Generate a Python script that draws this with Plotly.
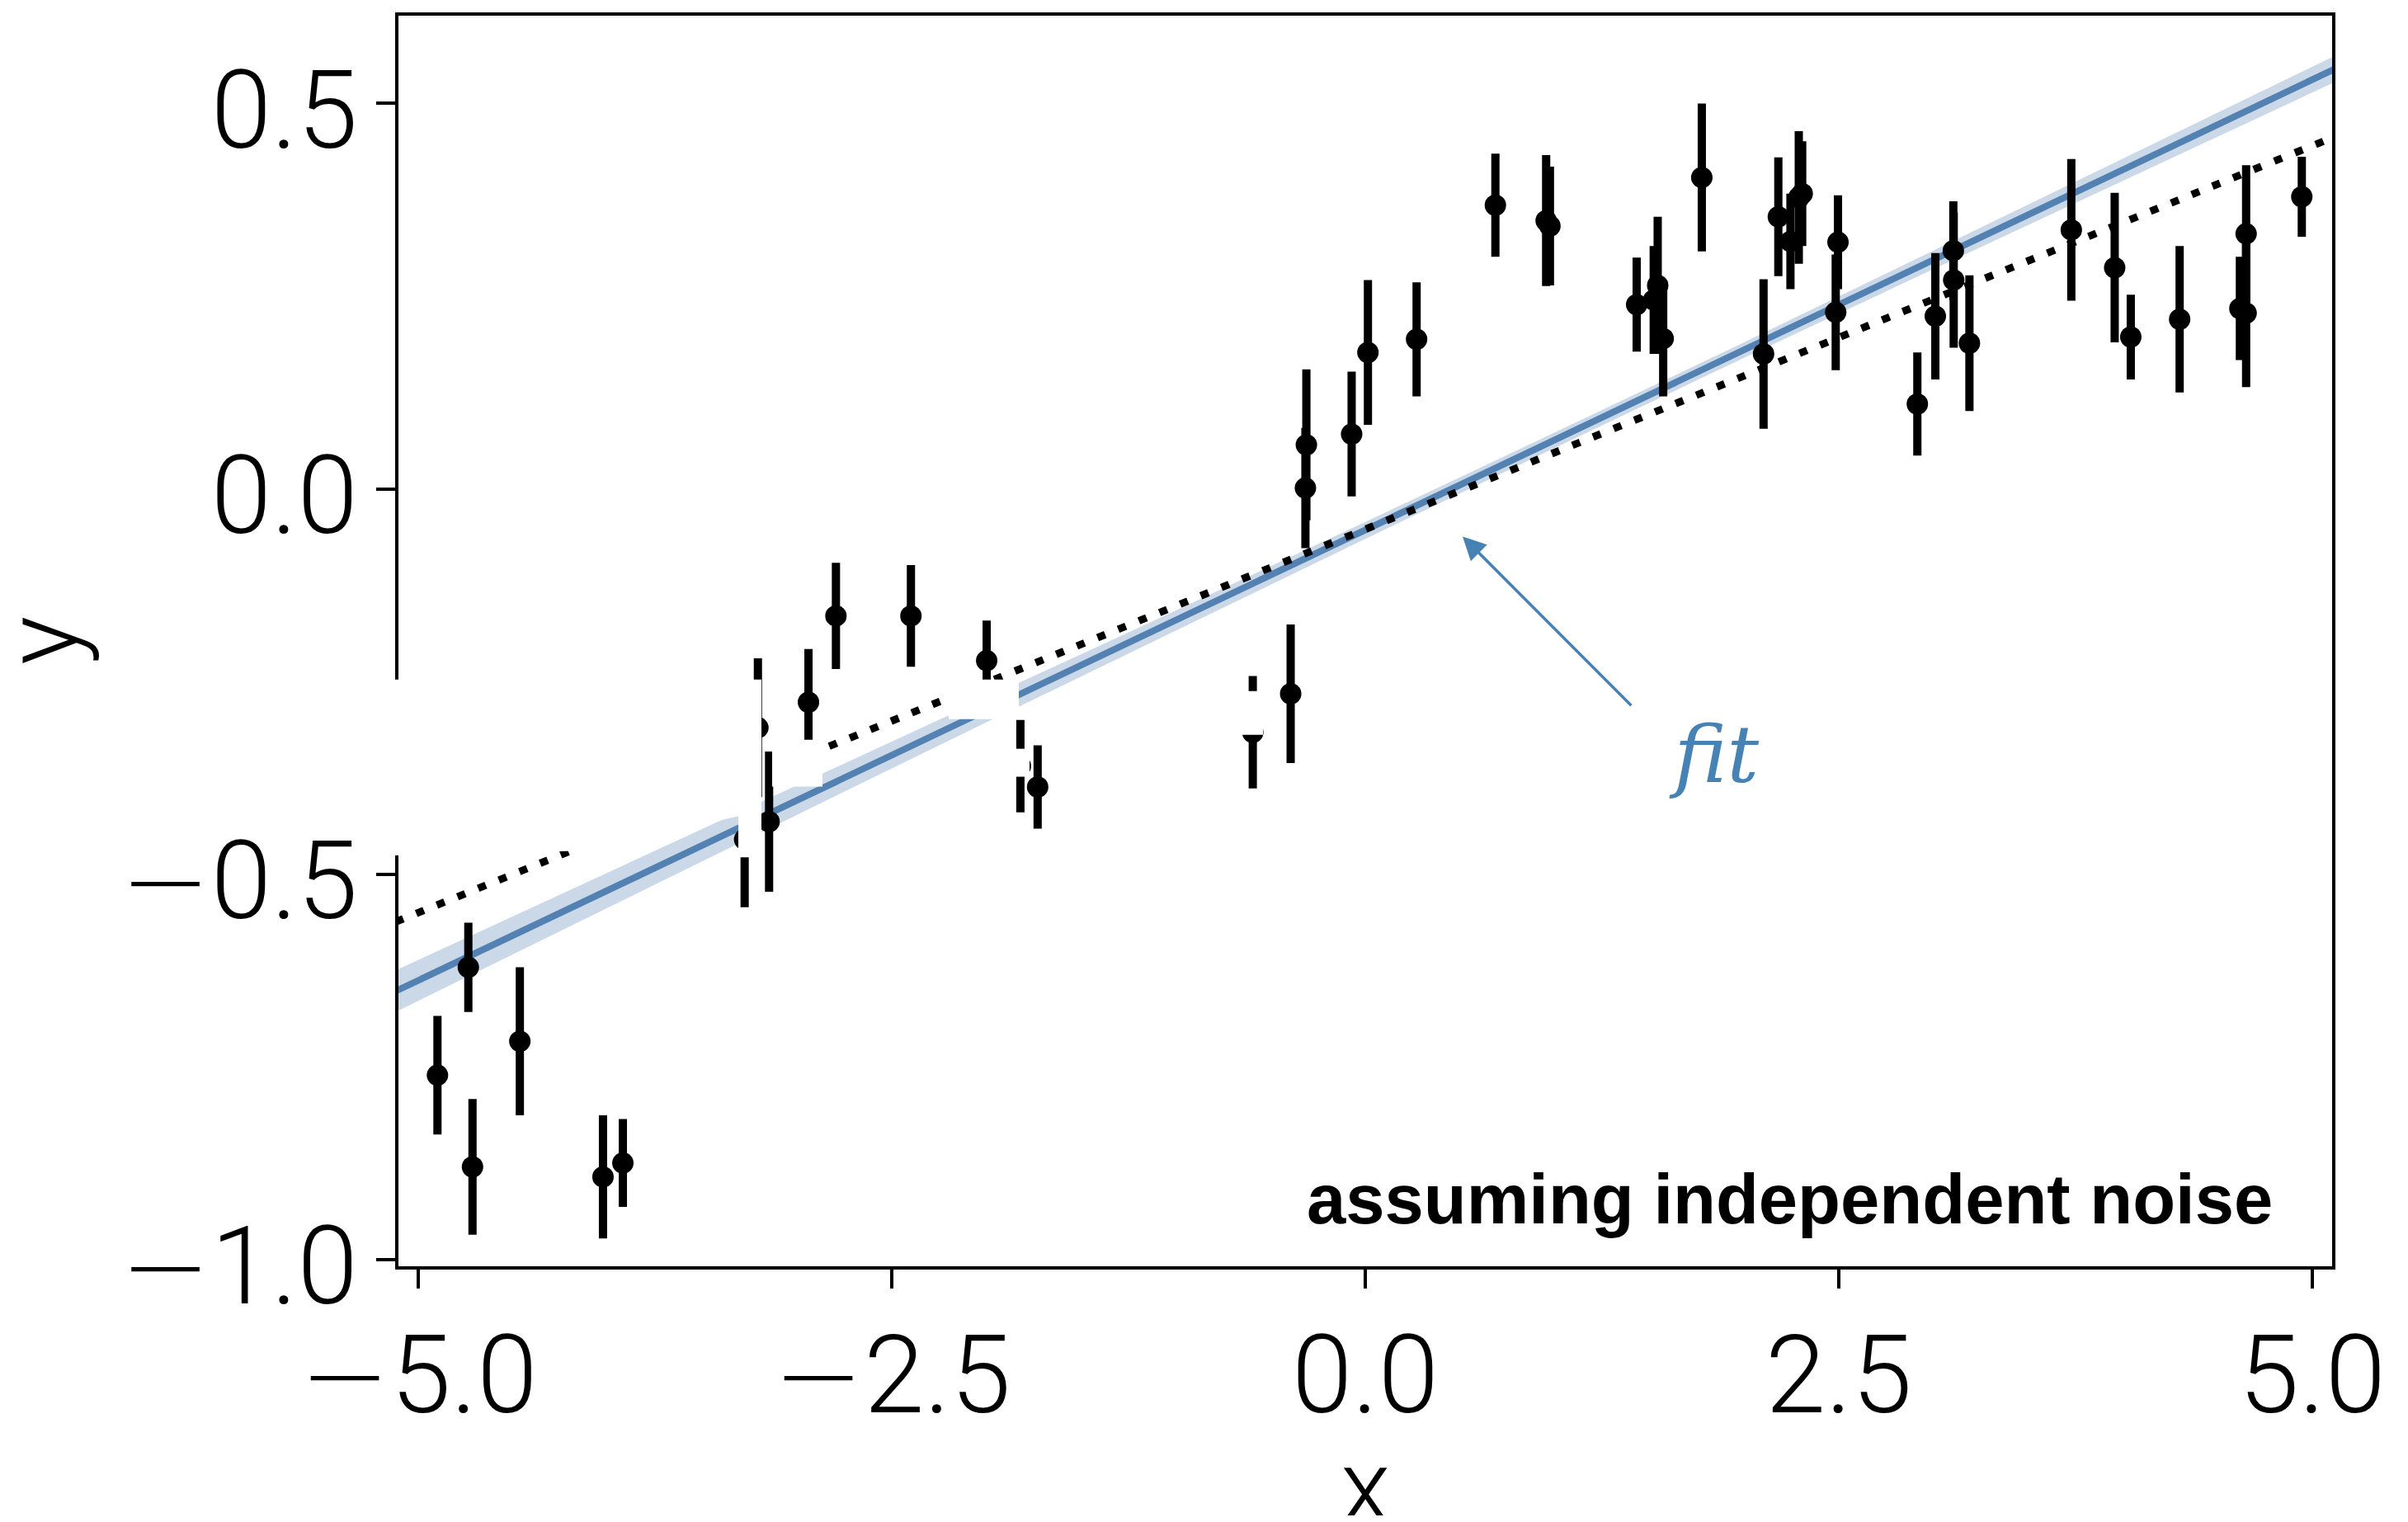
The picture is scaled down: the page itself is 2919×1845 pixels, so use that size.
import plotly.graph_objects as go

# ---------------- data ----------------
x_obs = [-4.899, -4.736, -4.714, -4.464, -4.025, -3.920, -3.277, -3.207, -3.148, -2.940,
         -2.795, -2.399, -1.999, -1.821, -1.730, -0.594, -0.394, -0.311, -0.316, -0.072,
         0.014, 0.271, 0.687, 0.955, 0.975, 1.433, 1.523, 1.544, 1.573, 1.777,
         2.103, 2.181, 2.245, 2.289, 2.307, 2.484, 2.496, 2.915, 3.010, 3.105,
         3.107, 3.190, 3.728, 3.957, 4.042, 4.300, 4.618, 4.651, 4.651, 4.945]
y_obs = [-0.761, -0.621, -0.880, -0.717, -0.893, -0.875, -0.455, -0.310, -0.432, -0.277,
         -0.165, -0.165, -0.223, -0.360, -0.387, -0.316, -0.266, 0.057, 0.001, 0.071,
         0.177, 0.194, 0.368, 0.348, 0.341, 0.239, 0.245, 0.264, 0.195, 0.404,
         0.175, 0.353, 0.321, 0.378, 0.383, 0.229, 0.320, 0.110, 0.224, 0.309,
         0.271, 0.189, 0.336, 0.287, 0.197, 0.220, 0.234, 0.228, 0.331, 0.379]
y_err = [0.077, 0.058, 0.088, 0.096, 0.080, 0.057, 0.088, 0.090, 0.091, 0.069,
         0.069, 0.066, 0.052, 0.060, 0.054, 0.073, 0.090, 0.098, 0.078, 0.081,
         0.094, 0.074, 0.067, 0.085, 0.077, 0.061, 0.070, 0.089, 0.075, 0.096,
         0.097, 0.077, 0.062, 0.086, 0.068, 0.075, 0.061, 0.067, 0.082, 0.064,
         0.088, 0.088, 0.092, 0.097, 0.055, 0.095, 0.067, 0.096, 0.089, 0.052]

# ML fit line and its uncertainty band
x_fit = [-5.12, -4.0, -3.0, -2.0, -1.0, 0.0, 1.0, 2.0, 3.0, 4.0, 5.12]
y_fit = [-0.652, -0.521, -0.404, -0.287, -0.171, -0.054, 0.063, 0.180, 0.297, 0.414, 0.545]
fit_halfwidth = [0.027, 0.023, 0.019, 0.016, 0.013, 0.011, 0.010, 0.010, 0.012, 0.014, 0.017]

# true model
x_true = [-5.12, 5.12]
y_true = [-0.562, 0.457]

MINUS = "<span style=\"font-family:'DejaVu Sans';font-weight:200\">\u2212</span>"
x_ticks = [-5.0, -2.5, 0.0, 2.5, 5.0]
x_ticktext = [MINUS + "5.0", MINUS + "2.5", "0.0", "2.5", "5.0"]
y_ticks = [-1.0, -0.5, 0.0, 0.5]
y_ticktext = [MINUS + "1.0", MINUS + "0.5", "0.0", "0.5"]

# ---------------- figure ----------------
OFF = 8                      # page body margin
W, H = 2919 - 2 * OFF, 1845 - 2 * OFF
L, T = 483 - OFF, 15 - OFF
PW, PH = 2344, 1520
R, B = W - L - PW, H - T - PH

BLUE = "#5381b2"
BAND = "#cad8e7"
ARROW = "#4682b4"

fig = go.Figure()

upper = [y + h for y, h in zip(y_fit, fit_halfwidth)]
lower = [y - h for y, h in zip(y_fit, fit_halfwidth)]
fig.add_trace(go.Scatter(x=x_fit + x_fit[::-1], y=upper + lower[::-1], fill="toself",
                         fillcolor=BAND, line=dict(width=0), mode="lines",
                         hoverinfo="skip", showlegend=False))
fig.add_trace(go.Scatter(x=x_fit, y=y_fit, mode="lines", line=dict(color=BLUE, width=8),
                         showlegend=False))
fig.add_trace(go.Scatter(x=x_true, y=y_true, mode="lines",
                         line=dict(color="black", width=9, dash="10px,17px"),
                         showlegend=False))
fig.add_trace(go.Scatter(x=x_obs, y=y_obs, mode="markers",
                         marker=dict(color="black", size=26, line=dict(width=0)),
                         error_y=dict(type="data", array=y_err, visible=True,
                                      color="black", thickness=10, width=0),
                         showlegend=False))

tickfont = dict(family="Roboto", size=132, color="black", weight=300)
axis_common = dict(showline=True, linecolor="black", linewidth=3.5, mirror=True,
                   ticks="outside", ticklen=23, tickwidth=3.5, tickcolor="black",
                   showgrid=False, zeroline=False, tickfont=tickfont)

fig.update_layout(
    width=W, height=H,
    margin=dict(l=L, r=R, t=T, b=B, pad=0),
    paper_bgcolor="white", plot_bgcolor="white",
    showlegend=False,
    xaxis=dict(range=[-5.105, 5.105], tickvals=x_ticks, ticktext=x_ticktext,
               ticklabelstandoff=-8, **axis_common),
    yaxis=dict(range=[-1.009, 0.614], tickvals=y_ticks, ticktext=y_ticktext,
               ticklabelstandoff=-4, ticklabelshift=7, **axis_common),
)

# white occlusions (white text outlines in the original), screen pixels
def px2paper(sx, sy):
    return ((sx - OFF) - L) / PW, ((T + PH) - (sy - OFF)) / PH

occl_polys = [
    [(462, 822), (923, 822), (923, 1038), (895, 1038), (895, 988), (705, 1030), (462, 1036)],
    [(936, 895), (997, 895), (997, 952), (936, 952)],
    [(1150, 822), (1235, 822), (1235, 870), (1150, 870)],
    [(1222, 906), (1248, 906), (1248, 940), (1222, 940)],
    [(1503, 836), (1531, 836), (1531, 889), (1503, 889)],
]
for poly in occl_polys:
    pts = [px2paper(a, b) for a, b in poly]
    path = "M " + " L ".join(f"{a:.5f},{b:.5f}" for a, b in pts) + " Z"
    fig.add_shape(type="path", path=path, xref="paper", yref="paper",
                  fillcolor="white", line=dict(width=0), layer="above")

# axis titles
fig.add_annotation(text="x", xref="paper", yref="paper", x=0.5, y=0,
                   xanchor="center", yanchor="top", yshift=-193, showarrow=False,
                   font=dict(family="Roboto", size=124, color="black", weight=300))
fig.add_annotation(text="y", xref="paper", yref="paper", x=0, y=0.5,
                   xanchor="center", yanchor="middle", xshift=-433, textangle=-90,
                   showarrow=False,
                   font=dict(family="Roboto", size=124, color="black", weight=300))

# corner text
cx, cy = px2paper(2757, 1453)
fig.add_annotation(text="<b>assuming independent noise</b>", xref="paper", yref="paper",
                   x=cx, y=cy, xanchor="right", yanchor="middle", showarrow=False,
                   font=dict(family="Liberation Sans", size=85, color="black"))

# ML fit arrow and label
fig.add_annotation(x=0.514, y=-0.062, ax=1.411, ay=-0.283, xref="x", yref="y",
                   axref="x", ayref="y", text="", showarrow=True,
                   arrowhead=2, arrowsize=1.6, arrowwidth=3.5, arrowcolor=ARROW)
fig.add_annotation(x=2.09, y=-0.345, xref="x", yref="y", xanchor="right", yanchor="middle",
                   text="<span style='color:white'>ML </span><i>fit</i>", showarrow=False,
                   font=dict(family="DejaVu Serif", size=96, color=ARROW))

fig.write_html("out.html")
